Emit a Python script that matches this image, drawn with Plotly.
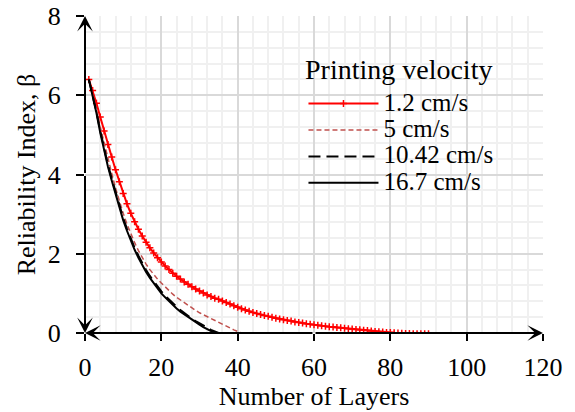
import plotly.graph_objects as go

# ---- data ----
layers_12 = list(range(1, 91))
beta_12 = [6.40, 6.12, 5.80, 5.45, 5.10, 4.76, 4.44, 4.12, 3.82, 3.52,
           3.26, 3.02, 2.81, 2.62, 2.45, 2.29, 2.15, 2.02, 1.90, 1.79,
           1.69, 1.60, 1.51, 1.43, 1.36, 1.29, 1.23, 1.17, 1.11, 1.06,
           1.01, 0.96, 0.92, 0.88, 0.85, 0.81, 0.77, 0.73, 0.69, 0.65,
           0.61, 0.58, 0.55, 0.52, 0.49, 0.465, 0.44, 0.42, 0.395, 0.375,
           0.355, 0.335, 0.315, 0.30, 0.28, 0.265, 0.25, 0.235, 0.22, 0.21,
           0.195, 0.185, 0.17, 0.16, 0.15, 0.14, 0.13, 0.12, 0.11, 0.10,
           0.09, 0.08, 0.07, 0.06, 0.05, 0.04, 0.03, 0.025, 0.015, 0.01,
           0.005, 0.0, -0.005, -0.01, -0.015, -0.02, -0.02, -0.02, -0.02, -0.02]

layers_5 = list(range(1, 42))
beta_5 = [6.40, 6.04, 5.64, 5.20, 4.79, 4.40, 4.03, 3.66, 3.32, 3.02,
          2.75, 2.50, 2.28, 2.08, 1.90, 1.74, 1.60, 1.47, 1.36, 1.26,
          1.16, 1.07, 0.98, 0.90, 0.83, 0.76, 0.69, 0.63, 0.57, 0.51,
          0.46, 0.41, 0.36, 0.31, 0.26, 0.21, 0.17, 0.12, 0.08, 0.04, 0.0]

layers_1042 = list(range(1, 36))
beta_1042 = [6.40, 6.02, 5.58, 5.10, 4.65, 4.25, 3.90, 3.55, 3.20, 2.90,
             2.63, 2.38, 2.15, 1.95, 1.76, 1.59, 1.44, 1.30, 1.17, 1.05,
             0.94, 0.84, 0.75, 0.66, 0.58, 0.50, 0.43, 0.36, 0.30, 0.24,
             0.18, 0.13, 0.08, 0.04, 0.0]

layers_167 = list(range(1, 35))
beta_167 = [6.40, 6.00, 5.55, 5.05, 4.60, 4.20, 3.85, 3.50, 3.15, 2.85,
            2.58, 2.33, 2.10, 1.90, 1.70, 1.54, 1.39, 1.25, 1.12, 1.00,
            0.90, 0.80, 0.71, 0.62, 0.54, 0.47, 0.40, 0.33, 0.27, 0.21,
            0.15, 0.10, 0.05, 0.0]

series_names = ["1.2 cm/s", "5 cm/s", "10.42 cm/s", "16.7 cm/s"]
legend_title = "Printing velocity"
x_title = "Number of Layers"
y_title = "Reliability Index, β"
x_ticks = [0, 20, 40, 60, 80, 100, 120]
y_ticks = [0, 2, 4, 6, 8]

FONT = "Liberation Serif"
FS = 26
LEG_FS = 25


def big(s):
    return '<span style="font-size:%dpx">%s</span>' % (LEG_FS, s)


fig = go.Figure()
fig.add_trace(go.Scatter(x=layers_12, y=beta_12, name=big(series_names[0]),
                         mode="lines+markers",
                         line=dict(color="#ff0000", width=2),
                         marker=dict(symbol="cross-thin", size=5, color="#ff0000",
                                     line=dict(color="#ff0000", width=1.5))))
fig.add_trace(go.Scatter(x=layers_5, y=beta_5, name=big(series_names[1]), mode="lines",
                         line=dict(color="#c0504d", width=1.5, dash="5px,3px")))
fig.add_trace(go.Scatter(x=layers_1042, y=beta_1042, name=big(series_names[2]), mode="lines",
                         line=dict(color="#000000", width=2, dash="12px,6px")))
fig.add_trace(go.Scatter(x=layers_167, y=beta_167, name=big(series_names[3]), mode="lines",
                         line=dict(color="#000000", width=2)))

# axis arrows
arrow_common = dict(xref="x", yref="y", axref="x", ayref="y", text="", showarrow=True,
                    arrowhead=3, arrowsize=1.3, arrowwidth=2, arrowcolor="#000000",
                    standoff=0, startstandoff=0)
fig.add_annotation(x=0, y=8, ax=0, ay=4, **arrow_common)
fig.add_annotation(x=0, y=0, ax=0, ay=4, **arrow_common)
fig.add_annotation(x=120, y=0, ax=60, ay=0, **arrow_common)
fig.add_annotation(x=0, y=0, ax=60, ay=0, **arrow_common)

# legend title
fig.add_annotation(xref="paper", yref="paper", x=0.476, y=0.83, xanchor="left",
                   yanchor="middle", showarrow=False, text=legend_title,
                   font=dict(family=FONT, size=28, color="#000000"))

fig.update_xaxes(range=[0, 120], tickvals=x_ticks, ticks="outside", ticklen=7,
                 tickwidth=1.5, tickcolor="#000000", automargin=False,
                 showgrid=True, gridcolor="#d9d9d9", gridwidth=1.5,
                 minor=dict(dtick=4, showgrid=True, gridcolor="#f0f0f0", gridwidth=1.5),
                 zeroline=False, showline=False, ticklabelstandoff=4,
                 tickfont=dict(family=FONT, size=FS, color="#000000"),
                 title=dict(text=x_title, font=dict(family=FONT, size=FS, color="#000000"),
                            standoff=0))
fig.update_yaxes(range=[0, 8], tickvals=y_ticks, ticks="outside", ticklen=8,
                 tickwidth=1.5, tickcolor="#000000", automargin=False,
                 showgrid=True, gridcolor="#d9d9d9", gridwidth=1.5,
                 minor=dict(dtick=0.4, showgrid=True, gridcolor="#f0f0f0", gridwidth=1.5),
                 zeroline=False, showline=False, ticklabelstandoff=10,
                 tickfont=dict(family=FONT, size=FS, color="#000000"),
                 title=dict(text=y_title, font=dict(family=FONT, size=FS, color="#000000"),
                            standoff=4))

fig.update_layout(
    width=575, height=412,
    margin=dict(l=85, r=32, t=16, b=79),
    paper_bgcolor="#ffffff", plot_bgcolor="#ffffff",
    font=dict(family=FONT, color="#000000"),
    showlegend=True,
    legend=dict(x=0.477, y=0.781, xanchor="left", yanchor="top",
                bgcolor="rgba(0,0,0,0)", itemwidth=70, tracegroupgap=0,
                font=dict(family=FONT, size=18, color="#000000")),
)

# remove the default 8px page margin so the figure fills the window exactly
fig.write_html("out.html", config={"displayModeBar": False},
               post_script="document.body.style.margin='0';")
